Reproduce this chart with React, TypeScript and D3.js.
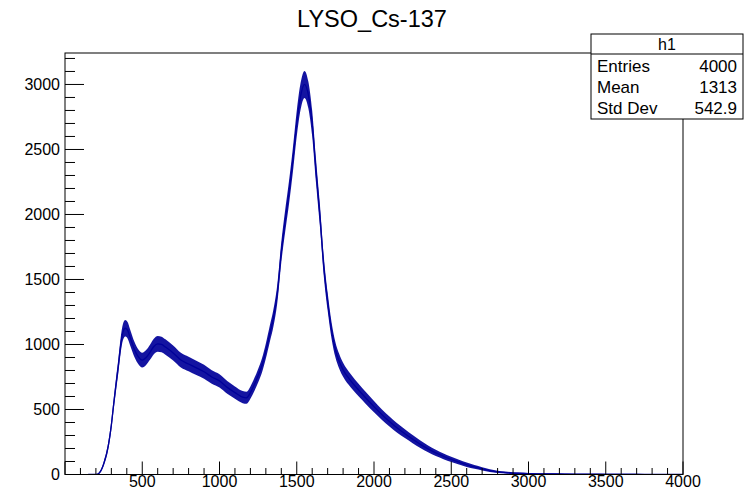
import React from "react";
import * as d3 from "d3";

const title = "LYSO_Cs-137";
const energy = [150, 200, 220, 250, 280, 300, 315, 330, 345, 360, 375, 390, 405, 420, 450, 475, 500, 525, 550, 575, 600, 625, 650, 700, 750, 800, 850, 900, 950, 1000, 1050, 1100, 1150, 1175, 1200, 1225, 1250, 1275, 1300, 1325, 1350, 1375, 1400, 1425, 1450, 1475, 1500, 1525, 1550, 1575, 1600, 1625, 1650, 1675, 1700, 1725, 1750, 1775, 1800, 1850, 1900, 1950, 2000, 2050, 2100, 2150, 2200, 2250, 2300, 2350, 2400, 2450, 2500, 2550, 2600, 2650, 2700, 2750, 2800, 2850, 2900, 2950, 3000, 3100, 3200, 3300, 3400, 3500, 3600, 3700, 3800, 3900, 4000];
const counts = [0, 0, 10, 80, 220, 380, 540, 690, 833, 990, 1095, 1125, 1110, 1060, 960, 905, 880, 900, 940, 985, 1005, 1000, 980, 935, 880, 850, 820, 790, 750, 720, 670, 630, 595, 590, 630, 690, 760, 840, 950, 1080, 1210, 1400, 1710, 1950, 2170, 2420, 2700, 2910, 3000, 2920, 2700, 2330, 1990, 1600, 1330, 1110, 960, 870, 805, 720, 650, 585, 522, 462, 408, 358, 314, 272, 232, 197, 166, 140, 116, 95, 75, 58, 44, 30, 20, 15, 11, 9, 7, 5, 4, 3, 3, 2, 2, 2, 1, 1, 0];
const xTicks = [500, 1000, 1500, 2000, 2500, 3000, 3500, 4000];
const yTicks = [0, 500, 1000, 1500, 2000, 2500, 3000];
const statLabels = ["Entries", "Mean", "Std Dev"];
const statValues = ["4000", "1313", "542.9"];
const statName = "h1";

const X0 = 65, X1 = 683, Y0 = 53, Y1 = 474.5;
const color = "#000099";
const font = "'Liberation Sans', Arial, Helvetica, sans-serif";

export default function App() {
  const x = d3.scaleLinear().domain([0, 4000]).range([X0, X1]);
  const y = d3.scaleLinear().domain([0, 3242]).range([Y1, Y0]);
  const pts = energy.map((e, i) => ({ e, c: counts[i] }));
  const line = d3.line<{ e: number; c: number }>()
    .x(d => x(d.e)).y(d => y(d.c)).curve(d3.curveMonotoneX);
  const band = d3.area<{ e: number; c: number }>()
    .x(d => x(d.e))
    .y0(d => y(Math.max(0, d.c - 1.9 * Math.sqrt(d.c))))
    .y1(d => y(d.c + 1.9 * Math.sqrt(d.c)))
    .curve(d3.curveMonotoneX);
  const xMinor = d3.range(0, 4001, 100);
  const yMinor = d3.range(0, 3201, 100);
  return (
    <svg width={744} height={495} style={{ position: "absolute", left: 0, top: 0, background: "#fff" }}
      fontFamily={font}>
      <rect x={0} y={0} width={744} height={495} fill="#fff" />
      <text x={372} y={27} textAnchor="middle" fontSize={23.5}>{title}</text>
      <g clipPath="url(#clip)">
        <defs>
          <clipPath id="clip"><rect x={X0} y={Y0} width={X1 - X0} height={Y1 - Y0} /></clipPath>
        </defs>
        <path d={band(pts) || ""} fill={color} opacity={0.92} />
        <path d={line(pts) || ""} fill="none" stroke={color} strokeWidth={1.3} />
      </g>
      <rect x={X0} y={Y0} width={X1 - X0} height={Y1 - Y0} fill="none" stroke="#000" strokeWidth={1} />
      {xMinor.map(v => (
        <line key={"xm" + v} x1={x(v)} x2={x(v)} y1={Y1} y2={Y1 - (v % 500 === 0 ? 13 : 6.5)} stroke="#000" strokeWidth={1} />
      ))}
      {yMinor.map(v => (
        <line key={"ym" + v} x1={X0} x2={X0 + (v % 500 === 0 ? 19 : 10)} y1={y(v)} y2={y(v)} stroke="#000" strokeWidth={1} />
      ))}
      {xTicks.map(v => (
        <text key={"xl" + v} x={x(v)} y={487} textAnchor="middle" fontSize={16}>{v}</text>
      ))}
      {yTicks.map(v => (
        <text key={"yl" + v} x={60} y={y(v) + 5.5} textAnchor="end" fontSize={16}>{v}</text>
      ))}
      <rect x={591} y={34} width={152} height={85} fill="#fff" stroke="#000" strokeWidth={1} />
      <line x1={591} x2={743} y1={54} y2={54} stroke="#000" strokeWidth={1} />
      <text x={667} y={50} textAnchor="middle" fontSize={16}>{statName}</text>
      {statLabels.map((s, i) => (
        <g key={s}>
          <text x={597} y={72 + i * 21} fontSize={17}>{s}</text>
          <text x={737} y={72 + i * 21} textAnchor="end" fontSize={17}>{statValues[i]}</text>
        </g>
      ))}
    </svg>
  );
}
